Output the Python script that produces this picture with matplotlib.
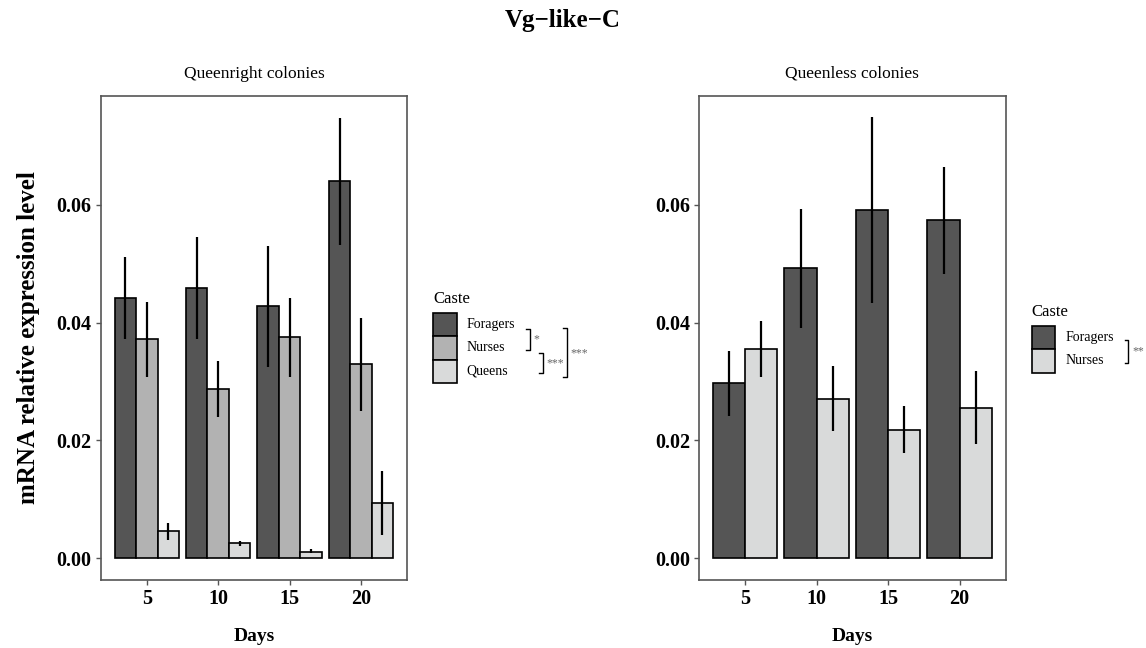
import numpy as np
import matplotlib
matplotlib.use("Agg")
import matplotlib.pyplot as plt
from matplotlib.patches import Rectangle
from matplotlib.lines import Line2D

# ---- data ----
days = [5, 10, 15, 20]

# Queenright colonies
qr_castes = ["Foragers", "Nurses", "Queens"]
qr_mean = {
    "Foragers": [0.0442, 0.0458, 0.0428, 0.0640],
    "Nurses":   [0.0372, 0.0287, 0.0375, 0.0329],
    "Queens":   [0.0046, 0.0025, 0.0011, 0.0093],
}
qr_low = {
    "Foragers": [0.0372, 0.0372, 0.0325, 0.0531],
    "Nurses":   [0.0308, 0.0240, 0.0307, 0.0250],
    "Queens":   [0.0031, 0.0021, 0.0008, 0.0039],
}
qr_high = {
    "Foragers": [0.0512, 0.0545, 0.0530, 0.0748],
    "Nurses":   [0.0435, 0.0334, 0.0442, 0.0407],
    "Queens":   [0.0060, 0.0029, 0.0015, 0.0148],
}

# Queenless colonies
ql_castes = ["Foragers", "Nurses"]
ql_mean = {
    "Foragers": [0.0297, 0.0492, 0.0592, 0.0574],
    "Nurses":   [0.0355, 0.0271, 0.0218, 0.0255],
}
ql_low = {
    "Foragers": [0.0242, 0.0391, 0.0434, 0.0483],
    "Nurses":   [0.0307, 0.0216, 0.0178, 0.0193],
}
ql_high = {
    "Foragers": [0.0351, 0.0593, 0.0749, 0.0664],
    "Nurses":   [0.0403, 0.0327, 0.0259, 0.0317],
}

qr_colors = {"Foragers": "#555555", "Nurses": "#b2b2b2", "Queens": "#d9dada"}
ql_colors = {"Foragers": "#555555", "Nurses": "#d9dada"}

W, H = 1146, 648
plt.rcParams["font.family"] = ["Liberation Serif", "DejaVu Serif"]
fig = plt.figure(figsize=(W / 100, H / 100), dpi=100)


def px(x, y):
    # pixel position -> figure fraction
    return x / W, 1 - y / H


def draw_panel(rect, castes, means, lows, highs, colors, title):
    ax = fig.add_axes(rect)
    n = len(castes)
    bw = 4.5 / n
    for i, c in enumerate(castes):
        xs = np.array(days) + (i - (n - 1) / 2) * bw
        ax.bar(xs, means[c], width=bw, color=colors[c], edgecolor="black",
               linewidth=1.2, zorder=2)
        ax.vlines(xs, lows[c], highs[c], color="black", linewidth=1.6, zorder=3)
    ax.set_xlim(1.775, 23.225)
    ax.set_ylim(-0.00374, 0.0785)
    ax.set_xticks(days)
    ax.set_yticks([0.00, 0.02, 0.04, 0.06])
    ax.set_yticklabels(["0.00", "0.02", "0.04", "0.06"])
    for lab in ax.get_xticklabels() + ax.get_yticklabels():
        lab.set_fontweight("bold")
        lab.set_fontsize(14.5)
    ax.tick_params(length=3.5, width=1, color="#555555", pad=3)
    for s in ax.spines.values():
        s.set_color("#555555")
        s.set_linewidth(1.2)
    ax.set_title(title, fontsize=12.5, pad=13)
    ax.set_xlabel("Days", fontsize=14, fontweight="bold", labelpad=14)
    return ax


ax1 = draw_panel([0.0879, 0.1049, 0.2673, 0.747], qr_castes, qr_mean, qr_low,
                 qr_high, qr_colors, "Queenright colonies")
ax2 = draw_panel([0.6100, 0.1049, 0.2676, 0.747], ql_castes, ql_mean, ql_low,
                 ql_high, ql_colors, "Queenless colonies")

ax1.set_ylabel("mRNA relative expression level", fontsize=18, fontweight="bold",
               labelpad=12)

fig.text(*px(563, 21), "Vg\u2212like\u2212C", ha="center", va="center",
         fontsize=18, fontweight="bold")


def draw_legend(x0, y0, castes, colors):
    # title + stacked square keys
    fig.text(*px(x0, y0 - 14), "Caste", fontsize=12, va="center", ha="left")
    key = 23.5
    centers = []
    for i, c in enumerate(castes):
        top = y0 + i * key
        fx, fy = px(x0, top + key)
        fig.patches.append(Rectangle((fx, fy), key / W, key / H,
                                     transform=fig.transFigure,
                                     facecolor=colors[c], edgecolor="black",
                                     linewidth=1.2))
        cy = top + key / 2
        centers.append(cy)
        fig.text(*px(x0 + key + 10, cy), c, fontsize=10, va="center", ha="left")
    return centers


def bracket(x, ya, yb, label, w=3.5):
    xs = [x - w, x, x, x - w]
    ys = [ya, ya, yb, yb]
    fx = [v / W for v in xs]
    fy = [1 - v / H for v in ys]
    fig.lines.append(Line2D(fx, fy, transform=fig.transFigure, color="black",
                            linewidth=1.0))
    fig.text(*px(x + 4, (ya + yb) / 2), label, fontsize=8.5, color="#666666",
             va="center", ha="left")


c1 = draw_legend(433, 312.7, qr_castes, qr_colors)
bracket(529.5, c1[0] + 5, c1[1] + 2, "*")
bracket(542.5, c1[1] + 5, c1[2] + 2, "***")
bracket(566.5, c1[0] + 4, c1[2] + 6, "***")

c2 = draw_legend(1031.7, 325.7, ql_castes, ql_colors)
bracket(1128.3, c2[0] + 3, c2[1] + 2, "**")

fig.savefig("out.png", dpi=100)
